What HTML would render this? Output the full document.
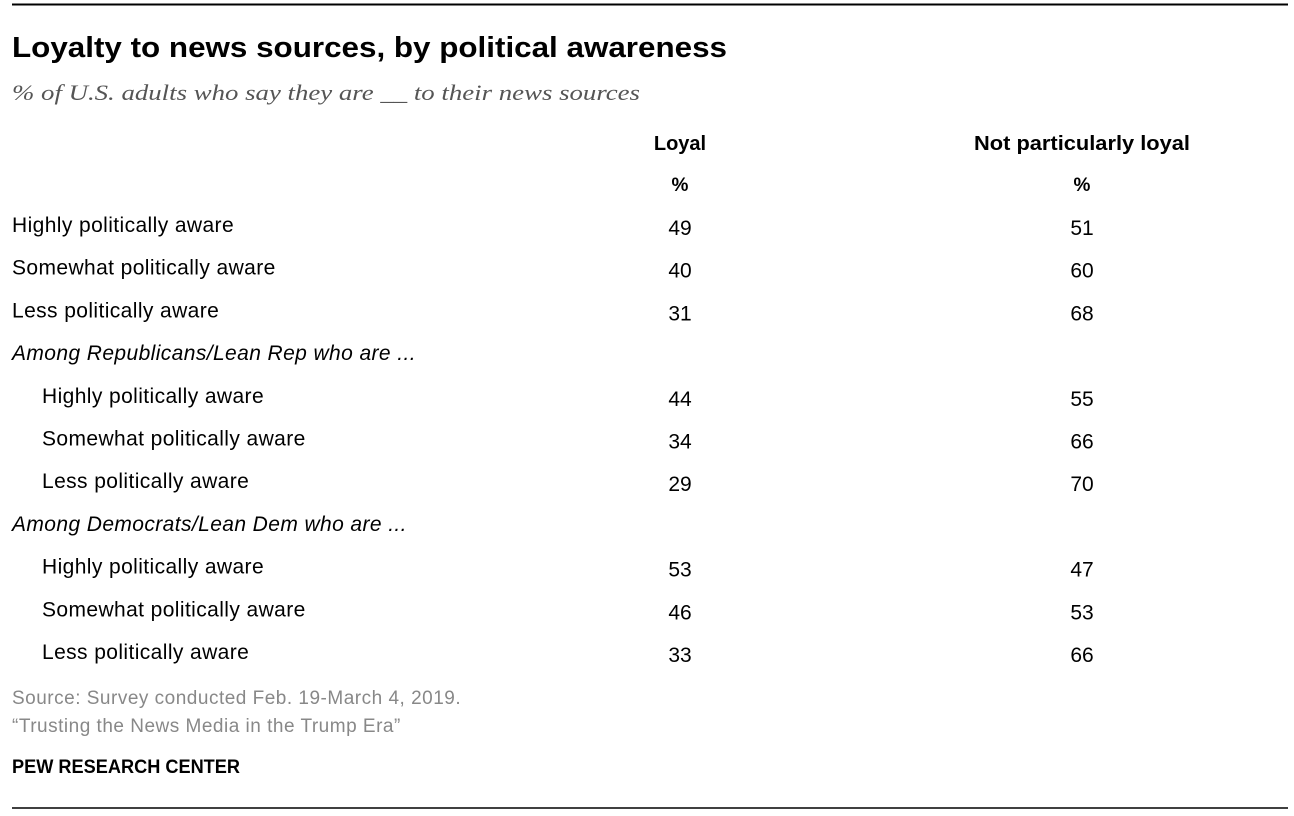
<!DOCTYPE html>
<html><head><meta charset="utf-8">
<style>
html,body{margin:0;padding:0;background:#fff;}
svg{display:block;font-family:"Liberation Sans",Arial,sans-serif;}
</style></head>
<body>
<svg id="chart" width="1294" height="816" viewBox="0 0 1294 816">
  <line x1="12" y1="4.5" x2="1288" y2="4.5" stroke="#000" stroke-width="2"/>
  <text x="12" y="57" font-size="29" font-weight="bold" fill="#000" textLength="715" lengthAdjust="spacingAndGlyphs">Loyalty to news sources, by political awareness</text>
  <text x="12" y="100" font-size="22" font-style="italic" fill="#555" font-family="Liberation Serif, serif" textLength="628" lengthAdjust="spacingAndGlyphs">% of U.S. adults who say they are __ to their news sources</text>
  <text x="680" y="150" font-size="20" font-weight="bold" text-anchor="middle">Loyal</text>
  <text x="1082" y="150" font-size="20" font-weight="bold" text-anchor="middle" textLength="216" lengthAdjust="spacingAndGlyphs">Not particularly loyal</text>
  <text x="680" y="191" font-size="19" font-weight="bold" text-anchor="middle">%</text>
  <text x="1082" y="191" font-size="19" font-weight="bold" text-anchor="middle">%</text>
  <g id="rows"></g>
  <text x="12" y="704" font-size="19" letter-spacing="0.5" fill="#888">Source: Survey conducted Feb. 19-March 4, 2019.</text>
  <text x="12" y="732" font-size="19" letter-spacing="0.5" fill="#888">“Trusting the News Media in the Trump Era”</text>
  <text x="12" y="773" font-size="19" font-weight="bold" fill="#000" textLength="228" lengthAdjust="spacingAndGlyphs">PEW RESEARCH CENTER</text>
  <line x1="12" y1="808" x2="1288" y2="808" stroke="#000" stroke-width="1.5"/>
</svg>
<script>
const rowLabels = ["Highly politically aware","Somewhat politically aware","Less politically aware","Among Republicans/Lean Rep who are ...","Highly politically aware","Somewhat politically aware","Less politically aware","Among Democrats/Lean Dem who are ...","Highly politically aware","Somewhat politically aware","Less politically aware"];
const rowIndent = [0,0,0,0,1,1,1,0,1,1,1];
const rowIsHeader = [false,false,false,true,false,false,false,true,false,false,false];
const loyalValues = [49,40,31,null,44,34,29,null,53,46,33];
const notLoyalValues = [51,60,68,null,55,66,70,null,47,53,66];

const NS = "http://www.w3.org/2000/svg";
const g = document.getElementById("rows");
const rowY = i => 232 + i * 42.7;
function mk(tag, attrs, txt){
  const e = document.createElementNS(NS, tag);
  for (const k in attrs) e.setAttribute(k, attrs[k]);
  if (txt !== undefined) e.textContent = txt;
  g.appendChild(e);
  return e;
}
rowLabels.forEach((lab, i) => {
  const y = rowY(i);
  const t = mk("text", {x: 12 + rowIndent[i]*30, y: y, "font-size": 21, "letter-spacing": 0.4, "font-style": rowIsHeader[i] ? "italic" : "normal", fill: "#000"}, lab);
  
  
  if (loyalValues[i] !== null) {
    const a = mk("text", {x: 680, y: y + 3, "font-size": 21, "text-anchor": "middle", fill: "#000"}, String(loyalValues[i]));
    
    
  }
  if (notLoyalValues[i] !== null) {
    const b = mk("text", {x: 1082, y: y + 3, "font-size": 21, "text-anchor": "middle", fill: "#000"}, String(notLoyalValues[i]));
    
    
  }
});
</script>
</body></html>
